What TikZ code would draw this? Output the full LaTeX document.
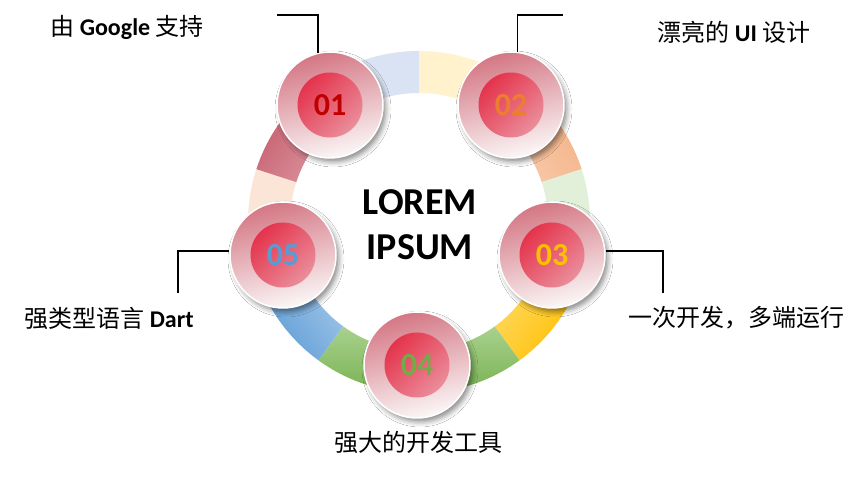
\documentclass[tikz,border=0pt]{standalone}
\usepackage{fontspec}
\setmainfont{Carlito}
\newfontfamily\cjk{Noto Sans CJK SC}
\usetikzlibrary{shadows.blur}

\definecolor{segLav}{HTML}{DAE3F3}
\definecolor{segYel}{HTML}{FFF2CC}
\definecolor{segMint}{HTML}{E2F0D9}
\definecolor{segPeach}{HTML}{FBE5D6}
\definecolor{orgIn}{HTML}{F8CBAD}
\definecolor{orgOut}{HTML}{F4B183}
\definecolor{goldIn}{HTML}{FFD966}
\definecolor{goldOut}{HTML}{FFC000}
\definecolor{grnIn}{HTML}{A9D18E}
\definecolor{grnOut}{HTML}{70AD47}
\definecolor{bluIn}{HTML}{A4C7E9}
\definecolor{bluOut}{HTML}{5B9BD5}
\definecolor{redIn}{HTML}{DB97A1}
\definecolor{redOut}{HTML}{C5596A}
\definecolor{ballTop}{HTML}{D47784}
\definecolor{ballBot}{HTML}{FBF7F7}
\definecolor{coreA}{HTML}{E4334C}
\definecolor{coreB}{HTML}{EA8E9B}
\definecolor{num1}{HTML}{C00000}
\definecolor{num2}{HTML}{ED7D31}
\definecolor{num3}{HTML}{FFC000}
\definecolor{num4}{HTML}{70AD47}
\definecolor{num5}{HTML}{5B9BD5}

% one piece of the ring: start angle, end angle, look
\newcommand{\ringseg}[3]{%
  \path[#3] ([shift={(#1:171)}]O) arc[start angle=#1, end angle=#2, radius=171]
    -- ([shift={(#2:129)}]O) arc[start angle=#2, end angle=#1, radius=129] -- cycle;}

\begin{document}
\begin{tikzpicture}[x=1pt, y=1pt]
        \tikzstyle{ball} = [circle, minimum size=106, inner sep=0pt, draw=white, line width=1.5pt,
            top color=ballTop, bottom color=ballBot, shading angle=15,
            blur shadow={shadow xshift=3pt, shadow yshift=-4pt, shadow blur radius=5pt, shadow opacity=45}]
        \tikzstyle{core} = [circle, minimum size=65, inner sep=0pt, left color=coreA, middle color=coreA,
            right color=coreB, shading angle=45, font=\fontsize{32}{32}\selectfont\bfseries]
        \tikzstyle{lbl} = [font=\fontsize{24}{27}\selectfont, inner sep=1pt]
        \tikzstyle{lead} = [line width=1.5pt, black]

        \useasboundingbox[fill=white] (0,0) rectangle (865,502);
        \coordinate (O) at (419,280);

        % ring
        \ringseg{90}{126}{fill=segLav}
        \ringseg{54}{90}{fill=segYel}
        \ringseg{18}{54}{top color=orgIn, bottom color=orgOut, shading angle=126}
        \ringseg{-18}{18}{fill=segMint}
        \ringseg{-54}{-18}{top color=goldIn, bottom color=goldOut, shading angle=54}
        \ringseg{-126}{-54}{top color=grnIn, bottom color=grnOut, shading angle=0}
        \ringseg{-162}{-126}{top color=bluIn, bottom color=bluOut, shading angle=-54}
        \ringseg{162}{198}{fill=segPeach}
        \ringseg{126}{162}{top color=redIn, bottom color=redOut, shading angle=234}

        \node[font=\fontsize{38}{45}\selectfont\bfseries, align=center] (title) at (420,277) {LOREM\\IPSUM};

        \node[ball] (c1) at (330,397) {};
        \node[ball] (c2) at (511,397) {};
        \node[ball] (c3) at (552,247) {};
        \node[ball] (c4) at (417,137) {};
        \node[ball] (c5) at (283,247) {};
        \node[core, text=num1] (n1) at (c1) {01};
        \node[core, text=num2] (n2) at (c2) {02};
        \node[core, text=num3] (n3) at (c3) {03};
        \node[core, text=num4] (n4) at (c4) {04};
        \node[core, text=num5] (n5) at (c5) {05};

        \node[lbl] (t1) at (127,475) {{\cjk 由} \textbf{Google} {\cjk 支持}};
        \node[lbl] (t2) at (734,470) {{\cjk 漂亮的} \textbf{UI} {\cjk 设计}};
        \node[lbl] (t3) at (736,184) {\cjk 一次开发，多端运行};
        \node[lbl] (t4) at (418,60) {\cjk 强大的开发工具};
        \node[lbl] (t5) at (109,184) {{\cjk 强类型语言} \textbf{Dart}};

        \coordinate (k1) at (277,487);
        \coordinate (k2) at (563,487);
        \coordinate (k3) at (663,209);
        \coordinate (k5) at (178,209);
        \draw[lead] (k1) -| (c1.103);
        \draw[lead] (k2) -| (c2.83);
        \draw[lead] (c3.4) -| (k3);
        \draw[lead] (c5.176) -| (k5);
      \end{tikzpicture}
\end{document}
